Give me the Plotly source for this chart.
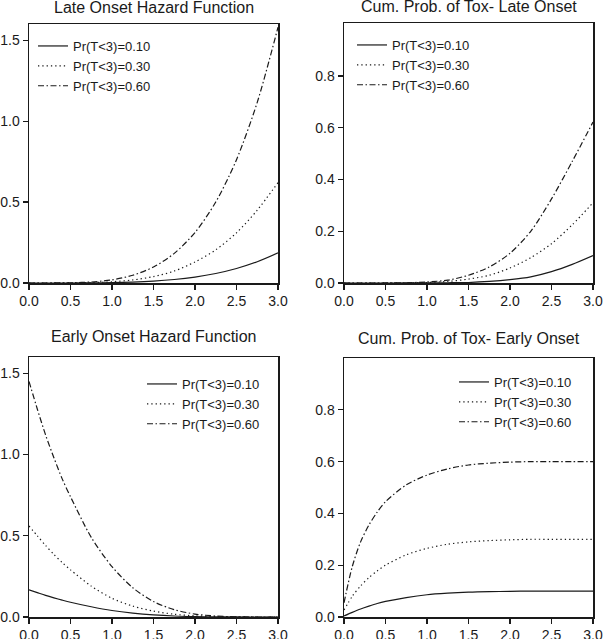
import plotly.graph_objects as go

# ---- data ----
t = [0, 0.1, 0.2, 0.3, 0.4, 0.5, 0.75, 1.0, 1.25, 1.5, 1.75, 2.0, 2.25, 2.5, 2.75, 3.0]

labels = ["Pr(T&lt;3)=0.10", "Pr(T&lt;3)=0.30", "Pr(T&lt;3)=0.60"]

late_haz_10 = [0, 0, 0, 0, 0.0001, 0.0001, 0.0007, 0.0023, 0.0056, 0.0116, 0.0215, 0.0367, 0.0589, 0.0897, 0.1313, 0.186]
late_haz_30 = [0, 0, 0, 0.0001, 0.0002, 0.0005, 0.0024, 0.0077, 0.0187, 0.0395, 0.074, 0.13, 0.205, 0.31, 0.45, 0.62]
late_haz_60 = [0, 0, 0, 0.0002, 0.0005, 0.0012, 0.0062, 0.0195, 0.0476, 0.0988, 0.183, 0.312, 0.5, 0.762, 1.116, 1.58]

late_cum_10 = [0, 0, 0, 0, 0, 0, 0.0002, 0.0005, 0.001, 0.002, 0.006, 0.013, 0.024, 0.044, 0.072, 0.106]
late_cum_30 = [0, 0, 0, 0, 0, 0.0002, 0.0006, 0.002, 0.006, 0.015, 0.03, 0.058, 0.098, 0.152, 0.225, 0.31]
late_cum_60 = [0, 0, 0, 0, 0, 0.0001, 0.001, 0.004, 0.011, 0.03, 0.062, 0.115, 0.2, 0.325, 0.47, 0.622]

early_haz_10 = [0.167, 0.15, 0.133, 0.118, 0.104, 0.091, 0.063, 0.04, 0.024, 0.013, 0.006, 0.0025, 0.0008, 0.0002, 0, 0]
early_haz_30 = [0.56, 0.50, 0.44, 0.385, 0.335, 0.29, 0.19, 0.115, 0.067, 0.036, 0.017, 0.007, 0.002, 0.0005, 0, 0]
early_haz_60 = [1.45, 1.28, 1.12, 0.98, 0.85, 0.74, 0.49, 0.31, 0.18, 0.095, 0.045, 0.018, 0.006, 0.0012, 0.0001, 0]

early_cum_10 = [0.004, 0.018, 0.031, 0.042, 0.052, 0.06, 0.075, 0.086, 0.092, 0.096, 0.098, 0.099, 0.1, 0.1, 0.1, 0.1]
early_cum_30 = [0.027, 0.08, 0.12, 0.152, 0.178, 0.2, 0.24, 0.265, 0.281, 0.29, 0.295, 0.298, 0.3, 0.3, 0.3, 0.3]
early_cum_60 = [0.055, 0.195, 0.29, 0.355, 0.405, 0.445, 0.51, 0.548, 0.572, 0.587, 0.594, 0.598, 0.6, 0.6, 0.6, 0.6]

titles = ["Late Onset Hazard Function", "Cum. Prob. of Tox- Late Onset",
          "Early Onset Hazard Function", "Cum. Prob. of Tox- Early Onset"]

x_ticks = [0, 0.5, 1.0, 1.5, 2.0, 2.5, 3.0]
haz_ticks = [0, 0.5, 1.0, 1.5]
cum_ticks = [0, 0.2, 0.4, 0.6, 0.8]

# ---- styling ----
W, H = 603, 639
FONT = "Liberation Sans, Arial, Helvetica, sans-serif"
INK = "#1a1a1a"
dashes = ["solid", "1.3px,3px", "6px,2.5px,1.5px,2.5px"]

panels = [
    dict(series=[late_haz_10, late_haz_30, late_haz_60], ax="", leg="legend",
         px=(29, 278), py=(24, 283), yr=[0, 1.6], yt=haz_ticks, legpos=(33, 31)),
    dict(series=[late_cum_10, late_cum_30, late_cum_60], ax="2", leg="legend2",
         px=(344, 593), py=(23, 283), yr=[0, 1.005], yt=cum_ticks, legpos=(352, 30)),
    dict(series=[early_haz_10, early_haz_30, early_haz_60], ax="3", leg="legend3",
         px=(29, 278), py=(357, 617), yr=[0, 1.6], yt=haz_ticks, legpos=(142, 369)),
    dict(series=[early_cum_10, early_cum_30, early_cum_60], ax="4", leg="legend4",
         px=(344, 593), py=(358, 617), yr=[0, 1.0], yt=cum_ticks, legpos=(454, 367)),
]

fig = go.Figure()
layout = dict(
    width=W, height=H, margin=dict(l=0, r=0, t=0, b=0),
    paper_bgcolor="white", plot_bgcolor="white",
    font=dict(family=FONT, size=14, color=INK),
    annotations=[],
)

for i, p in enumerate(panels):
    xa = "x" + p["ax"]
    ya = "y" + p["ax"]
    for k, (ys, lab) in enumerate(zip(p["series"], labels)):
        fig.add_trace(go.Scatter(
            x=t, y=ys, mode="lines", name=lab, xaxis=xa, yaxis=ya,
            legend=p["leg"],
            line=dict(color=INK, width=1.2, dash=dashes[k], shape="spline", smoothing=0.8),
            hoverinfo="skip",
        ))
    x0, x1 = p["px"]
    y0, y1 = p["py"]
    axis_common = dict(
        showline=True, mirror=True, linecolor=INK, linewidth=1.5,
        ticks="outside", ticklen=5, tickwidth=1.2, tickcolor=INK,
        showgrid=False, zeroline=False, automargin=False,
        tickfont=dict(family=FONT, size=14, color=INK),
        tickformat=".1f",
    )
    layout["xaxis" + p["ax"]] = dict(
        axis_common, domain=[x0 / W, x1 / W], range=[0, 3],
        tickvals=x_ticks, anchor=ya,
    )
    layout["yaxis" + p["ax"]] = dict(
        axis_common, domain=[1 - y1 / H, 1 - y0 / H], range=p["yr"],
        tickvals=p["yt"], anchor=xa,
    )
    lx, ly = p["legpos"]
    layout[p["leg"]] = dict(
        x=lx / W, y=1 - ly / H, xanchor="left", yanchor="top",
        bgcolor="rgba(0,0,0,0)", borderwidth=0,
        font=dict(family=FONT, size=13, color=INK),
        itemwidth=30,
    )
    layout["annotations"].append(dict(
        text=titles[i], xref="paper", yref="paper",
        x=(x0 + x1) / 2 / W, y=1 - (y0 - (17 if i < 2 else 20)) / H,
        xanchor="center", yanchor="middle",
        showarrow=False, font=dict(family=FONT, size=16, color=INK),
    ))

fig.update_layout(**layout)
fig.update_layout(showlegend=True)
fig.write_html(
    "out.html",
    config={"displayModeBar": False, "staticPlot": True},
    post_script="document.body.style.margin='0';document.body.style.padding='0';",
)
